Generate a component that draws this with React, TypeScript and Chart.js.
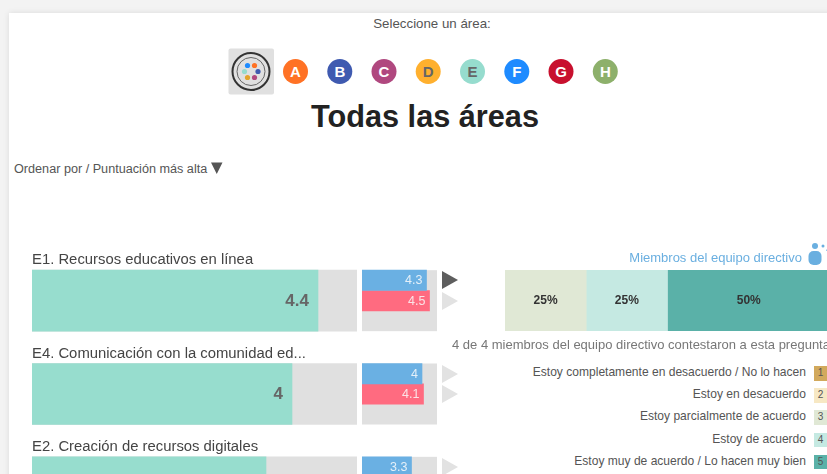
import React, { useEffect, useRef } from "react";
import { Chart, registerables } from "chart.js";

Chart.register(...registerables);

const FONT = '"Liberation Sans", Arial, sans-serif';

const rowTitles = ["E1. Recursos educativos en línea", "E4. Comunicación con la comunidad ed...", "E2. Creación de recursos digitales"];
const rowCodes = ["E1", "E4", "E2"];
const overallScores = [4.4, 4, 3.6];
const blueScores = [4.3, 4, 3.3];
const redScores: (number | null)[] = [4.5, 4.1, null];
const scoreMax = 5;

const stackCategory = ["E1"];
const stackLabels = ["1", "2", "3", "4", "5"];
const stackShares = [0, 0, 25, 25, 50];
const stackColors = ["#D2A95C", "#F7E8C4", "#E0E8D5", "#C5E9E2", "#5AB1A8"];
const legendTexts = [
  "Estoy completamente en desacuerdo / No lo hacen",
  "Estoy en desacuerdo",
  "Estoy parcialmente de acuerdo",
  "Estoy de acuerdo",
  "Estoy muy de acuerdo / Lo hacen muy bien",
];
const areaLetters = ["A", "B", "C", "D", "E", "F", "G", "H"];
const areaColors = ["#FF7225", "#3F5AB0", "#B0487F", "#FFB02E", "#96DCCE", "#1E8BFF", "#C8102E", "#8DB06B"];
const areaCenters = [295.5, 339.8, 384, 428.2, 472.5, 516.8, 561, 605.3];

const barLabelPlugin = {
  id: "barLabels",
  afterDatasetsDraw(chart: any) {
    const ctx = chart.ctx;
    chart.data.datasets.forEach((ds: any, i: number) => {
      if (!ds.labelStyle) return;
      chart.getDatasetMeta(i).data.forEach((bar: any, j: number) => {
        const v = ds.data[j];
        if (v === null || v === 0) return;
        const s = ds.labelStyle;
        ctx.save();
        ctx.font = s.font;
        ctx.fillStyle = s.color;
        ctx.textBaseline = "middle";
        if (s.center) {
          ctx.textAlign = "center";
          ctx.fillText(v + "%", (bar.x + bar.base) / 2, bar.y + 0.5);
        } else {
          ctx.textAlign = "right";
          ctx.fillText(String(v), bar.x - s.inset, bar.y + 0.5);
        }
        ctx.restore();
      });
    });
  },
};

// grey track behind each comparison group, placed through the chart's own scales
const trackPlugin = {
  id: "track",
  beforeDatasetsDraw(chart: any) {
    const { ctx, scales } = chart;
    const left = scales.x.getPixelForValue(0);
    const right = scales.x.getPixelForValue(scoreMax);
    ctx.save();
    ctx.fillStyle = "#E0E0E0";
    rowCodes.forEach((_, i) => {
      const c = scales.y.getPixelForValue(i);
      ctx.fillRect(left, c - 30.5, right - left, 61);
    });
    ctx.restore();
  },
};

const hiddenAxis = { display: false, grid: { display: false } };

function useChart(build: () => any) {
  const ref = useRef<HTMLCanvasElement>(null);
  useEffect(() => {
    const chart = new Chart(ref.current as HTMLCanvasElement, build());
    return () => chart.destroy();
  }, []);
  return ref;
}

const baseOptions = {
  animation: false,
  responsive: false,
  indexAxis: "y",
  layout: { padding: 0 },
  plugins: { legend: { display: false }, tooltip: { enabled: false }, title: { display: false } },
};

function Overall() {
  const ref = useChart(() => ({
    type: "bar",
    plugins: [barLabelPlugin],
    data: {
      labels: rowCodes,
      datasets: [
        {
          data: overallScores,
          backgroundColor: "#97DDCE",
          barThickness: 61,
          grouped: false,
          order: 1,
          labelStyle: { font: `bold 17px ${FONT}`, color: "#666666", inset: 9 },
        },
        {
          data: rowCodes.map(() => scoreMax),
          backgroundColor: "#E0E0E0",
          barThickness: 61,
          grouped: false,
          order: 2,
        },
      ],
    },
    options: {
      ...baseOptions,
      scales: { x: { ...hiddenAxis, min: 0, max: scoreMax }, y: hiddenAxis },
    },
  }));
  return <canvas ref={ref} width={325} height={280} style={{ position: "absolute", left: 32, top: 254, display: "block" }} />;
}

function Comparison() {
  const smallLabel = { font: `12.5px ${FONT}`, color: "#E4F0F9", inset: 4 };
  const ref = useChart(() => ({
    type: "bar",
    plugins: [trackPlugin, barLabelPlugin],
    data: {
      labels: rowCodes,
      datasets: [
        { data: blueScores, backgroundColor: "#6AB0E3", barThickness: 20.33, labelStyle: smallLabel },
        { data: redScores, backgroundColor: "#FF6B80", barThickness: 20.33, labelStyle: { ...smallLabel, color: "#FBE3E6" } },
        { data: rowCodes.map(() => null), barThickness: 20.33 },
      ],
    },
    options: {
      ...baseOptions,
      scales: { x: { ...hiddenAxis, min: 0, max: scoreMax }, y: hiddenAxis },
    },
  }));
  return <canvas ref={ref} width={75} height={280} style={{ position: "absolute", left: 362, top: 254, display: "block" }} />;
}

function Distribution() {
  const ref = useChart(() => ({
    type: "bar",
    plugins: [barLabelPlugin],
    data: {
      labels: stackCategory,
      datasets: stackLabels.map((label, i) => ({
        label,
        data: [stackShares[i] === 0 ? null : stackShares[i]],
        backgroundColor: stackColors[i],
        barThickness: 61,
        labelStyle: { font: `bold 12px ${FONT}`, color: "#333333", center: true },
      })),
    },
    options: {
      ...baseOptions,
      scales: {
        x: { ...hiddenAxis, stacked: true, min: 0, max: 100 },
        y: { ...hiddenAxis, stacked: true },
      },
    },
  }));
  return <canvas ref={ref} width={325} height={61} style={{ position: "absolute", left: 505, top: 270, display: "block" }} />;
}

const text = (extra: React.CSSProperties): React.CSSProperties => ({
  position: "absolute",
  whiteSpace: "nowrap",
  fontFamily: FONT,
  lineHeight: "18px",
  ...extra,
});

const arrowTops = [271, 292, 365, 385, 458];

export default function App() {
  useEffect(() => {
    document.body.style.margin = "0";
    document.body.style.overflow = "hidden";
  }, []);
  return (
    <div style={{ position: "fixed", left: 0, top: 0, width: 827, height: 474, overflow: "hidden", background: "#F3F3F3", filter: "blur(0.35px)" }}>
      <div style={{ position: "absolute", left: 9, top: 13, width: 900, height: 600, background: "#FFFFFF", boxShadow: "0 0 6px rgba(0,0,0,0.10)" }} />

      <div style={text({ left: 0, width: 864, top: 15, textAlign: "center", fontSize: 13.3, color: "#555555" })}>Seleccione un área:</div>

      <svg width={827} height={100} style={{ position: "absolute", left: 0, top: 0 }}>
        <rect x={228.5} y={48.5} width={45.5} height={46} rx={2} fill="#E0E0E0" />
        <circle cx={251} cy={71.5} r={18.5} fill="none" stroke="#333333" strokeWidth={2} />
        <circle cx={251} cy={71.5} r={14} fill="none" stroke="#666666" strokeWidth={1} />
        <circle cx={247.5} cy={65.5} r={2.6} fill="#1E8BFF" />
        <circle cx={254.5} cy={65.5} r={2.6} fill="#FF7225" />
        <circle cx={258} cy={71.5} r={2.6} fill="#3F5AB0" />
        <circle cx={254.5} cy={77.5} r={2.6} fill="#B0487F" />
        <circle cx={247.5} cy={77.5} r={2.6} fill="#E3A42C" />
        <circle cx={244.5} cy={71.5} r={2.6} fill="#96DCCE" />
        {areaLetters.map((l, i) => (
          <g key={l}>
            <circle cx={areaCenters[i]} cy={71.5} r={12.5} fill={areaColors[i]} />
            <text
              x={areaCenters[i]}
              y={77}
              textAnchor="middle"
              fontFamily={FONT}
              fontWeight="bold"
              fontSize={15}
              fill={l === "D" || l === "E" ? "#666666" : "#FFFFFF"}
            >
              {l}
            </text>
          </g>
        ))}
      </svg>

      <div style={text({ left: 0, width: 850, top: 98, lineHeight: "38px", textAlign: "center", fontSize: 30.7, fontWeight: "bold", color: "#222222" })}>Todas las áreas</div>

      <div style={text({ left: 14, top: 160, fontSize: 12.65, color: "#555555" })}>Ordenar por / Puntuación más alta</div>
      <svg width={14} height={14} style={{ position: "absolute", left: 210, top: 162 }}>
        <polygon points="1,0.5 12.5,0.5 6.75,12" fill="#555555" />
      </svg>

      <Overall />
      <Comparison />

      <div style={text({ left: 32, top: 249.5, fontSize: 14.85, color: "#444444" })}>{rowTitles[0]}</div>
      <div style={text({ left: 32, top: 343.5, fontSize: 14.85, color: "#444444" })}>{rowTitles[1]}</div>
      <div style={text({ left: 32, top: 437, fontSize: 14.85, color: "#444444" })}>{rowTitles[2]}</div>

      <svg width={20} height={474} style={{ position: "absolute", left: 440, top: 0 }}>
        {arrowTops.map((t, i) => (
          <polygon key={t} points={`2,${t} 18,${t + 9} 2,${t + 18}`} fill={i === 0 ? "#5E5E5E" : "#E2E2E2"} />
        ))}
      </svg>

      <div style={text({ right: 25, top: 249, fontSize: 13, color: "#6AAFE0" })}>Miembros del equipo directivo</div>
      <svg width={22} height={26} style={{ position: "absolute", left: 808, top: 241 }}>
        <circle cx={7} cy={5} r={3} fill="#6AAFE0" />
        <circle cx={15} cy={5} r={1.5} fill="#6AAFE0" />
        <path d="M18 9 a3 3 0 0 1 3 3" stroke="#6AAFE0" fill="none" />
        <rect x={0.5} y={10} width={13} height={14} rx={5} fill="#6AAFE0" />
      </svg>

      <Distribution />

      <div style={text({ left: 452, top: 336, fontSize: 13, color: "#777777" })}>4 de 4 miembros del equipo directivo contestaron a esta pregunta</div>

      {legendTexts.map((t, i) => (
        <React.Fragment key={t}>
          <div style={text({ right: 21, top: 363 + i * 22.2, fontSize: 12.05, color: "#555555" })}>{t}</div>
          <div
            style={text({
              left: 813.5,
              top: 366 + i * 22.2,
              width: 14,
              height: 14.5,
              lineHeight: "14.5px",
              background: stackColors[i],
              textAlign: "center",
              fontSize: 10,
              color: "#555555",
            })}
          >
            {stackLabels[i]}
          </div>
        </React.Fragment>
      ))}
    </div>
  );
}
